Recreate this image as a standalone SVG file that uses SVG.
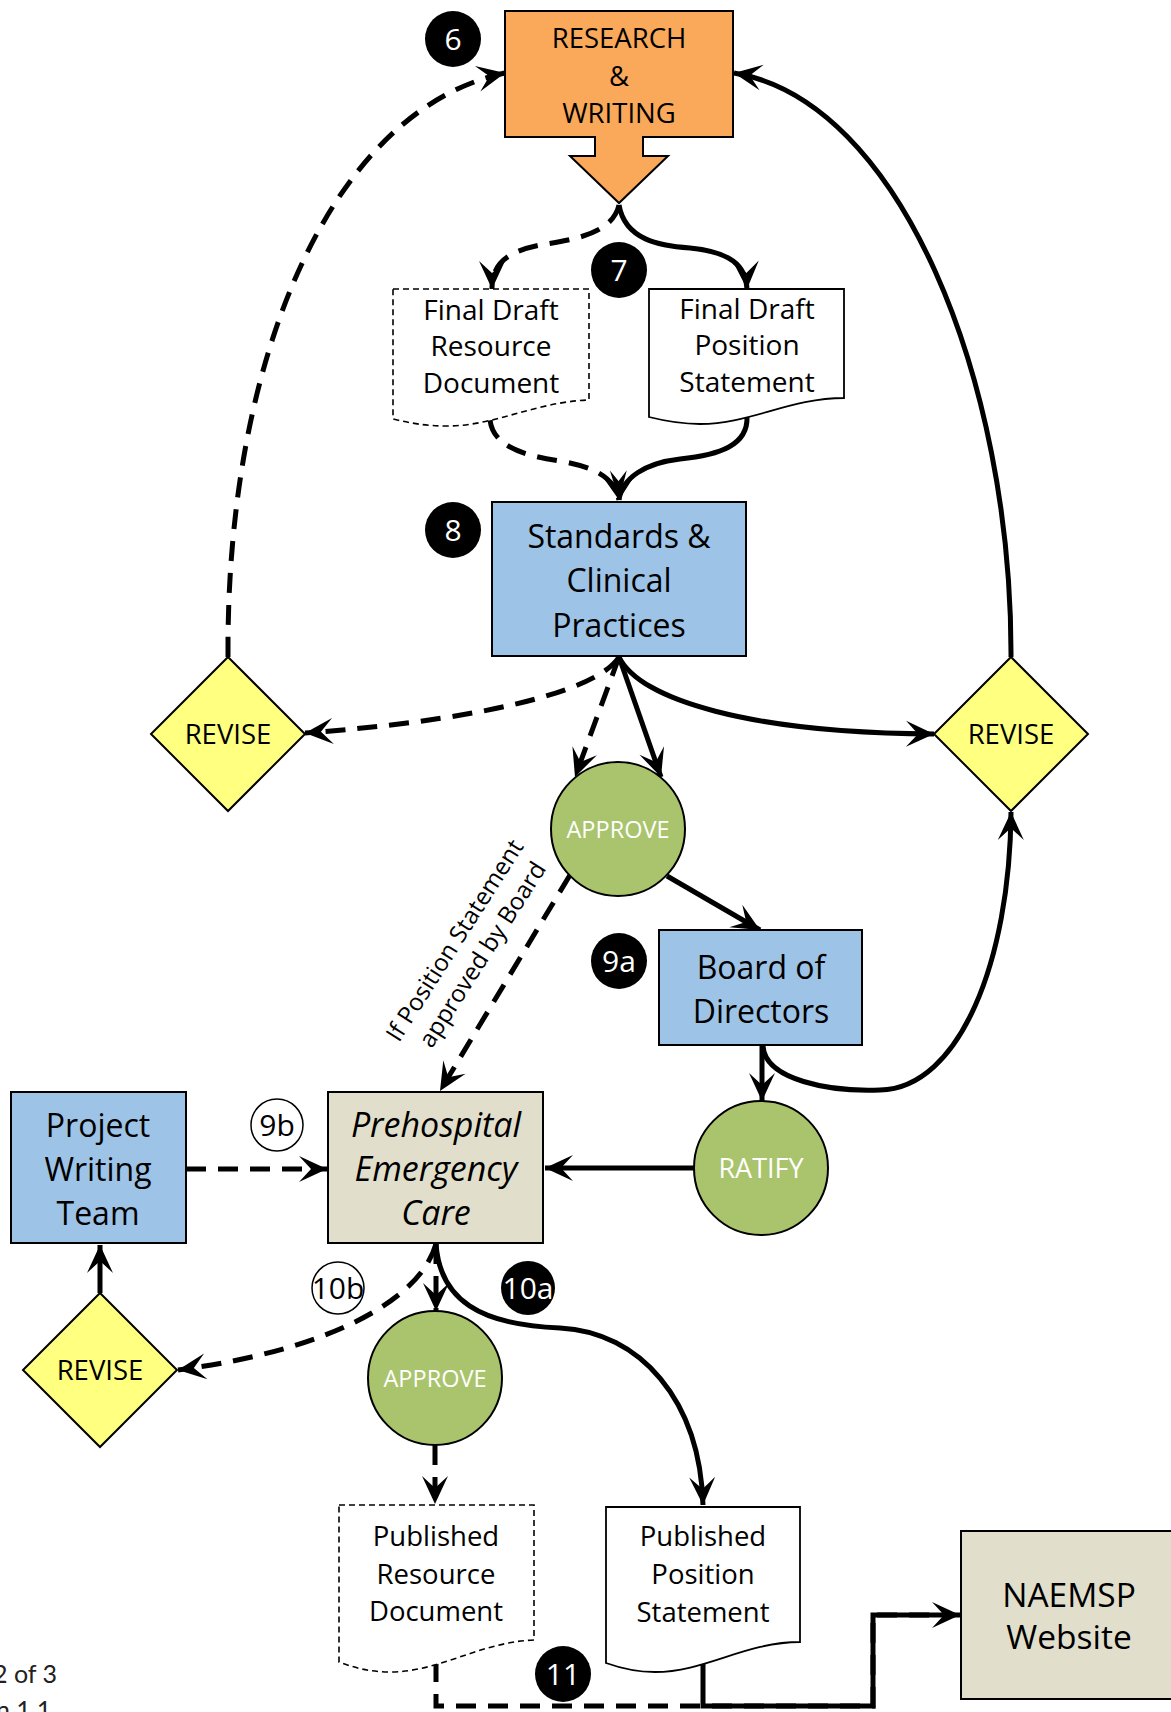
<svg xmlns="http://www.w3.org/2000/svg" width="1171" height="1712" viewBox="0 0 1171 1712">
<style>
.conn{fill:none;stroke:#000;stroke-width:5;stroke-linecap:butt;stroke-linejoin:miter}
.dash{stroke-dasharray:20 12}
.box{stroke:#000;stroke-width:2}
.doc{fill:#fff;stroke:#000;stroke-width:1.8}
.docd{fill:#fff;stroke:#000;stroke-width:1.6;stroke-dasharray:6 4}
.t{font-family:"Open Sans","Liberation Sans",sans-serif;text-anchor:middle;fill:#000}
.w{fill:#fff}
.blue{fill:#9DC3E6}
.beige{fill:#E1DFCC}
.yel{fill:#FFFF80}
.grn{fill:#A9C46C}
.num{font-family:"Open Sans","Liberation Sans",sans-serif;text-anchor:middle;font-size:30px}
</style>
<defs>
<marker id="ah" viewBox="-30 -15 32 30" markerWidth="32" markerHeight="30" refX="0" refY="0" orient="auto" markerUnits="userSpaceOnUse">
<path d="M0,0 L-28,-13 L-16,0 L-28,13 Z" fill="#000"/>
</marker>
</defs>

<g id="connectors">
<path class="conn dash" d="M228,657 C226,360 330,110 505,73" marker-end="url(#ah)"/>
<path class="conn" d="M1011,657 C1012,380 900,100 734,73" marker-end="url(#ah)"/>
<path class="conn" d="M619,205 C625,240 660,246 690,248 C730,252 746,265 747,289" marker-end="url(#ah)"/>
<path class="conn dash" d="M619,205 C612,235 570,240 540,245 C505,252 492,265 492,289" marker-end="url(#ah)"/>
<path class="conn dash" d="M490,420 C493,445 520,455 560,461 C595,467 615,478 619,500" marker-end="url(#ah)"/>
<path class="conn" d="M747,417 C748,445 720,455 680,459 C645,463 622,478 619,500" marker-end="url(#ah)"/>
<path class="conn dash" d="M619,657 C595,695 460,722 305,733" marker-end="url(#ah)"/>
<path class="conn" d="M619,657 C640,700 750,733 934,734" marker-end="url(#ah)"/>
<path class="conn dash" d="M619,657 L575,777" marker-end="url(#ah)"/>
<path class="conn" d="M619,657 L661,777" marker-end="url(#ah)"/>
<path class="conn" d="M667,876 L760,930" marker-end="url(#ah)"/>
<path class="conn dash" d="M570,875 L440,1091" marker-end="url(#ah)"/>
<path class="conn" d="M762,1046 V1101" marker-end="url(#ah)"/>
<path class="conn" d="M763,1046 C765,1080 830,1092 880,1090 C960,1088 1010,960 1011,812" marker-end="url(#ah)"/>
<path class="conn" d="M694,1168 H545" marker-end="url(#ah)"/>
<path class="conn dash" d="M186,1169 H327" marker-end="url(#ah)"/>
<path class="conn" d="M100,1293 V1245" marker-end="url(#ah)"/>
<path class="conn dash" d="M436,1244 C420,1300 330,1350 178,1370" marker-end="url(#ah)"/>
<path class="conn dash" d="M436,1244 V1311" marker-end="url(#ah)"/>
<path class="conn" d="M436,1244 C440,1300 480,1325 560,1328 C640,1332 700,1400 703,1505" marker-end="url(#ah)"/>
<path class="conn dash" d="M435,1445 V1504" marker-end="url(#ah)"/>
<path class="conn dash" d="M436,1662 V1706 H873 V1615 H930"/>
<path class="conn" d="M703,1664 V1706 H873 V1615 H960" marker-end="url(#ah)"/>
</g>

<g id="research">
<path d="M505,11 H733 V137 H643 V156 H668 L619,203 L570,156 H595 V137 H505 Z" fill="#F9A959" stroke="#000" stroke-width="2"/>
<text class="t" font-size="27.5" x="619" y="48">RESEARCH</text>
<text class="t" font-size="27.5" x="619" y="86">&amp;</text>
<text class="t" font-size="27.5" x="619" y="123">WRITING</text>
</g>

<g id="n6"><circle cx="453" cy="39" r="28" fill="#000"/><text class="num w" x="453" y="50">6</text></g>
<g id="n7"><circle cx="619" cy="270" r="28" fill="#000"/><text class="num w" x="619" y="281">7</text></g>
<g id="n8"><circle cx="453" cy="530" r="28" fill="#000"/><text class="num w" x="453" y="541">8</text></g>
<g id="n9a"><circle cx="619" cy="961" r="28" fill="#000"/><text class="num w" x="619" y="972">9a</text></g>
<g id="n9b"><circle cx="277" cy="1125" r="26" fill="#fff" stroke="#000" stroke-width="1.5"/><text class="num" x="277" y="1136">9b</text></g>
<g id="n10b"><circle cx="338" cy="1288" r="26" fill="#fff" stroke="#000" stroke-width="1.5"/><text class="num" x="338" y="1299">10b</text></g>
<g id="n10a"><circle cx="528" cy="1288" r="27" fill="#000"/><text class="num w" x="528" y="1299">10a</text></g>
<g id="n11"><circle cx="563" cy="1674" r="28" fill="#000"/><text class="num w" x="563" y="1685">11</text></g>

<g id="fd-resource">
<path class="docd" d="M393,289 H589 V400 C535,402 495,426 447,426 C425,426 410,423 393,419 Z"/>
<text class="t" font-size="28" x="491" y="320">Final Draft</text>
<text class="t" font-size="28" x="491" y="356">Resource</text>
<text class="t" font-size="28" x="491" y="393">Document</text>
</g>

<g id="fd-position">
<path class="doc" d="M649,289 H844 V398 C790,398 750,424 700,424 C680,424 665,421 649,417 Z"/>
<text class="t" font-size="28" x="747" y="319">Final Draft</text>
<text class="t" font-size="28" x="747" y="355">Position</text>
<text class="t" font-size="28" x="747" y="392">Statement</text>
</g>

<g id="standards">
<rect class="box blue" x="492" y="502" width="254" height="154"/>
<text class="t" font-size="32" x="619" y="548">Standards &amp;</text>
<text class="t" font-size="32" x="619" y="592">Clinical</text>
<text class="t" font-size="32" x="619" y="637">Practices</text>
</g>

<g id="revise-left">
<polygon class="box yel" points="228,657 305,734 228,811 151,734"/>
<text class="t" font-size="27.5" x="228" y="744">REVISE</text>
</g>
<g id="revise-right">
<polygon class="box yel" points="1011,657 1088,734 1011,811 934,734"/>
<text class="t" font-size="27.5" x="1011" y="744">REVISE</text>
</g>

<g id="approve1">
<circle class="box grn" cx="618" cy="829" r="67"/>
<text class="t w" font-size="23.5" x="618" y="838">APPROVE</text>
</g>

<g id="label-if">
<g transform="translate(454,940) rotate(-57.5)">
<text class="t" font-size="24" x="0" y="9">If Position Statement</text>
<text class="t" font-size="24" x="3" y="40">approved by Board</text>
</g>
</g>

<g id="board">
<rect class="box blue" x="659" y="930" width="203" height="115"/>
<text class="t" font-size="32" x="761" y="979">Board of</text>
<text class="t" font-size="32" x="761" y="1023">Directors</text>
</g>

<g id="ratify">
<circle class="box grn" cx="761" cy="1168" r="67"/>
<text class="t w" font-size="27" x="761" y="1178">RATIFY</text>
</g>

<g id="prehospital">
<rect class="box beige" x="328" y="1092" width="215" height="151"/>
<text class="t" font-size="34" font-style="italic" x="436" y="1137">Prehospital</text>
<text class="t" font-size="34" font-style="italic" x="436" y="1181">Emergency</text>
<text class="t" font-size="34" font-style="italic" x="436" y="1225">Care</text>
</g>

<g id="project">
<rect class="box blue" x="11" y="1092" width="175" height="151"/>
<text class="t" font-size="32" x="98" y="1137">Project</text>
<text class="t" font-size="32" x="98" y="1181">Writing</text>
<text class="t" font-size="32" x="98" y="1225">Team</text>
</g>

<g id="revise-bottom">
<polygon class="box yel" points="100,1293 177,1370 100,1447 23,1370"/>
<text class="t" font-size="27.5" x="100" y="1380">REVISE</text>
</g>

<g id="approve2">
<circle class="box grn" cx="435" cy="1378" r="67"/>
<text class="t w" font-size="23.5" x="435" y="1387">APPROVE</text>
</g>

<g id="pub-resource">
<path class="docd" d="M339,1505 H534 V1640 C480,1642 440,1672 390,1672 C370,1672 355,1668 339,1662 Z"/>
<text class="t" font-size="27.5" x="436" y="1546">Published</text>
<text class="t" font-size="27.5" x="436" y="1584">Resource</text>
<text class="t" font-size="27.5" x="436" y="1621">Document</text>
</g>

<g id="pub-position">
<path class="doc" d="M606,1507 H800 V1642 C745,1642 705,1672 655,1672 C635,1672 620,1668 606,1663 Z"/>
<text class="t" font-size="27.5" x="703" y="1546">Published</text>
<text class="t" font-size="27.5" x="703" y="1584">Position</text>
<text class="t" font-size="27.5" x="703" y="1622">Statement</text>
</g>

<g id="naemsp">
<rect class="box beige" x="961" y="1531" width="230" height="168"/>
<text class="t" font-size="33.5" x="1069" y="1607">NAEMSP</text>
<text class="t" font-size="33.5" x="1069" y="1649">Website</text>
</g>

<g id="footer">
<text font-family="Lato,'Open Sans',sans-serif" font-size="25" fill="#222" x="-7" y="1683">2 of 3</text>
<text font-family="Lato,'Open Sans',sans-serif" font-size="25" fill="#222" x="-4" y="1719">n 1.1</text>
</g>
</svg>
